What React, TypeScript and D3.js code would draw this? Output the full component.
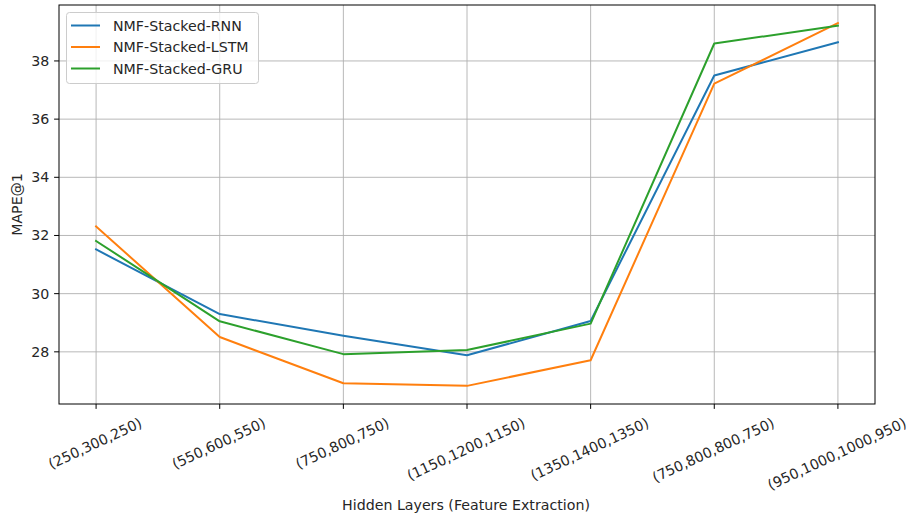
import React, { useMemo } from "react";
import * as d3 from "d3";

const categories = [
  "(250,300,250)",
  "(550,600,550)",
  "(750,800,750)",
  "(1150,1200,1150)",
  "(1350,1400,1350)",
  "(750,800,800,750)",
  "(950,1000,1000,950)",
];
const rnnValues = [31.52, 29.3, 28.55, 27.88, 29.06, 37.5, 38.64];
const lstmValues = [32.31, 28.51, 26.92, 26.83, 27.71, 37.22, 39.3];
const gruValues = [31.81, 29.05, 27.92, 28.06, 28.97, 38.6, 39.21];
const seriesNames = ["NMF-Stacked-RNN", "NMF-Stacked-LSTM", "NMF-Stacked-GRU"];
const seriesColors = ["#1f77b4", "#ff7f0e", "#2ca02c"];
const yTicks = [28, 30, 32, 34, 36, 38];

const W = 908;
const H = 520;
const FONT = "DejaVu Sans";
const FS = 14.2;

function measure(text: string): number {
  if (typeof document === "undefined") return text.length * FS * 0.6;
  const c = document.createElement("canvas");
  const ctx = c.getContext("2d");
  if (!ctx) return text.length * FS * 0.6;
  ctx.font = `${FS}px "${FONT}"`;
  return ctx.measureText(text).width;
}

export default function App() {
  const left = 59, right = 875, top = 5, bottom = 404;
  const allVals = [...rnnValues, ...lstmValues, ...gruValues];
  const yMin = d3.min(allVals)!;
  const yMax = d3.max(allVals)!;
  const yPad = (yMax - yMin) * 0.05;
  const n = categories.length;
  const x = d3.scaleLinear().domain([-0.3, n - 1 + 0.3]).range([left, right]);
  const y = d3.scaleLinear().domain([yMin - yPad, yMax + yPad]).range([bottom, top]);

  const series = [rnnValues, lstmValues, gruValues];
  const line = d3
    .line<number>()
    .x((_, i) => x(i))
    .y((v) => y(v));

  const theta = (25 * Math.PI) / 180;
  const labelLens = useMemo(() => categories.map(measure), []);
  const textH = FS * 1.17;
  const labelTop = bottom + 4.9 + 5.5;

  return (
    <svg
      width={W}
      height={H}
      style={{ position: "absolute", left: 0, top: 0, background: "#fff" }}
      fontFamily={FONT}
    >
      <rect x={0} y={0} width={W} height={H} fill="#fff" />
      {/* grid */}
      {categories.map((_, i) => (
        <line key={"gx" + i} x1={x(i)} x2={x(i)} y1={top} y2={bottom} stroke="#b0b0b0" strokeWidth={0.9} />
      ))}
      {yTicks.map((t) => (
        <line key={"gy" + t} x1={left} x2={right} y1={y(t)} y2={y(t)} stroke="#b0b0b0" strokeWidth={0.9} />
      ))}
      {/* lines */}
      {series.map((s, k) => (
        <path key={"s" + k} d={line(s)!} fill="none" stroke={seriesColors[k]} strokeWidth={2} strokeLinejoin="round" strokeLinecap="square" />
      ))}
      {/* spines */}
      <rect x={left} y={top} width={right - left} height={bottom - top} fill="none" stroke="#000" strokeWidth={1} />
      {/* x ticks */}
      {categories.map((c, i) => {
        const L = labelLens[i];
        const bh = L * Math.sin(theta) + textH * Math.cos(theta);
        const cy = labelTop + bh / 2;
        return (
          <g key={"xt" + i}>
            <line x1={x(i)} x2={x(i)} y1={bottom} y2={bottom + 4.9} stroke="#000" strokeWidth={1} />
            <text
              transform={`translate(${x(i) - 1},${cy}) rotate(-25)`}
              textAnchor="middle"
              dominantBaseline="central"
              fontSize={FS}
              fill="#262626"
            >
              {c}
            </text>
          </g>
        );
      })}
      {/* y ticks */}
      {yTicks.map((t) => (
        <g key={"yt" + t}>
          <line x1={left - 4.9} x2={left} y1={y(t)} y2={y(t)} stroke="#000" strokeWidth={1} />
          <text x={left - 4.9 - 4.9} y={y(t)} textAnchor="end" dominantBaseline="central" fontSize={FS} fill="#262626">
            {t}
          </text>
        </g>
      ))}
      {/* axis labels */}
      <text x={(left + right) / 2 - 1} y={510} textAnchor="middle" fontSize={FS} fill="#262626">
        Hidden Layers (Feature Extraction)
      </text>
      <text
        transform={`translate(17,${(top + bottom) / 2}) rotate(-90)`}
        textAnchor="middle"
        dominantBaseline="central"
        fontSize={FS}
        fill="#262626"
      >
        MAPE@1
      </text>
      {/* legend */}
      <rect x={66.5} y={12.5} width={192} height={71} rx={3} fill="#fff" fillOpacity={0.8} stroke="#cccccc" strokeWidth={1} />
      {seriesNames.map((name, k) => {
        const ly = 25.5 + k * 21.5;
        return (
          <g key={"lg" + k}>
            <line x1={71} x2={100} y1={ly} y2={ly} stroke={seriesColors[k]} strokeWidth={2} />
            <text x={113} y={ly} dominantBaseline="central" fontSize={FS} fill="#262626">
              {name}
            </text>
          </g>
        );
      })}
    </svg>
  );
}
